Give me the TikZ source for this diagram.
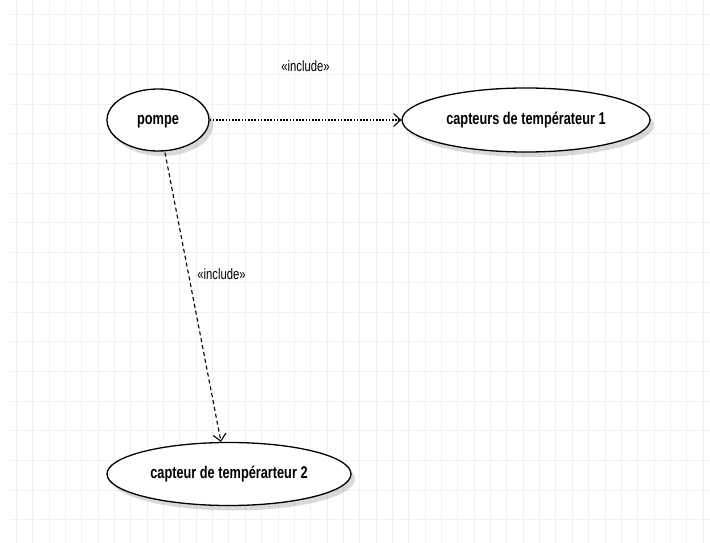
\documentclass[tikz,border=0pt]{standalone}
\usepackage{fontspec}
\setmainfont{Liberation Sans}
\newfontfamily\narrowfont[FakeStretch=0.75]{Liberation Sans}
\usepackage{tikz}
\usetikzlibrary{shapes.geometric,arrows.meta,shadows}
\tikzset{usecase/.style={ellipse, draw, line width=1.3pt, fill=white, inner sep=0pt,
		text height=9pt, text depth=0pt,
		font=\narrowfont\bfseries\fontsize{17}{17}\selectfont,
		drop shadow={shadow xshift=4pt, shadow yshift=-5pt, fill=black, opacity=0.15}},
	stereo/.style={font=\narrowfont\fontsize{15}{15}\selectfont},
	incl/.style={line width=1.1pt, -{Straight Barb[length=7pt,width=13pt,line width=1.1pt]}},
	gridline/.style={draw=black!6, line width=1pt}}

\begin{document}
\begin{tikzpicture}[x=1pt, y=-1pt]
	\useasboundingbox (0,0) rectangle (710,543);
	\foreach \i in {0,...,42}
		\draw[gridline] (16.4+16.35*\i,0) -- (16.4+16.35*\i,543);
	\foreach \j in {0,...,17}
		\draw[gridline] (10,15+29.7*\j) -- (710,15+29.7*\j);
	\node[usecase, minimum width=102pt, minimum height=62pt] (pompe) at (158,120) {pompe};
	\node[usecase, minimum width=248pt, minimum height=64pt] (capt1) at (526,120) {capteurs de températeur 1};
	\node[usecase, minimum width=244pt, minimum height=63pt] (capt2) at (229,474) {capteur de tempérarteur 2};
	\draw[incl, dash pattern=on 1.6pt off 1.6pt] (pompe) -- (capt1)
		node[stereo, midway, above=44pt] {«include»};
	\draw[incl, dash pattern=on 4pt off 3pt] (pompe.south) ++(7,1) coordinate (p2) -- (capt2.104)
		node[stereo, pos=0.42, right=5pt] {«include»};
\end{tikzpicture}
\end{document}
